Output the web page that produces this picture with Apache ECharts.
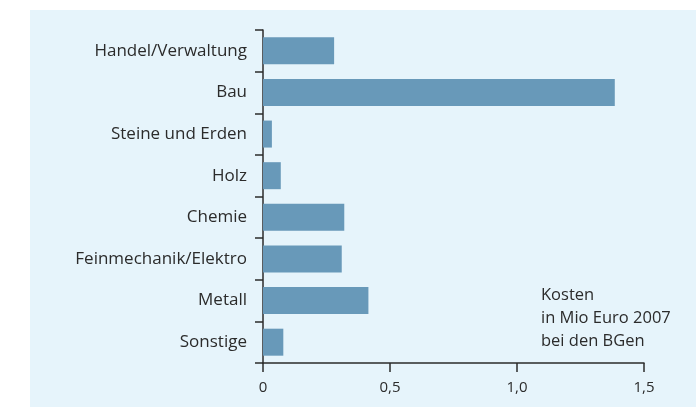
<!DOCTYPE html>
<html>
<head>
<meta charset="utf-8">
<script src="https://cdn.jsdelivr.net/npm/echarts@6/dist/echarts.min.js"></script>
<style>
  html, body { margin: 0; padding: 0; background: #fff; }
  #chart { width: 696px; height: 407px; }
</style>
</head>
<body>
<div id="chart"></div>
<script>
const categories = ['Handel/Verwaltung', 'Bau', 'Steine und Erden', 'Holz', 'Chemie', 'Feinmechanik/Elektro', 'Metall', 'Sonstige'];
const kosten = [0.28, 1.385, 0.035, 0.07, 0.32, 0.31, 0.415, 0.08];
const xTicks = [0, 0.5, 1.0, 1.5];
const noteLines = ['Kosten', 'in Mio Euro 2007', 'bei den BGen'];

const myChart = echarts.init(document.querySelector('#chart'));

const textColor = '#2b2b2b';
const fontFamily = '"Open Sans", sans-serif';

const option = {
  animation: false,
  textStyle: { fontFamily: fontFamily },
  graphic: [
    {
      type: 'rect',
      z: -10,
      shape: { x: 30, y: 10, width: 666, height: 397 },
      style: { fill: '#e6f4fb' }
    },
    {
      type: 'text',
      left: 541,
      top: 284,
      style: {
        text: noteLines.join('\n'),
        fill: textColor,
        font: '16.5px ' + fontFamily,
        lineHeight: 23
      }
    }
  ],
  grid: {
    left: 263,
    top: 30,
    right: 52,
    bottom: 44,
    containLabel: false
  },
  xAxis: {
    type: 'value',
    min: 0,
    max: 1.5,
    interval: 0.5,
    splitLine: { show: false },
    axisLine: { show: true, lineStyle: { color: textColor, width: 1.5 } },
    axisTick: { show: true, length: 9, lineStyle: { color: textColor, width: 1.5 } },
    axisLabel: {
      color: textColor,
      fontSize: 15,
      margin: 17,
      formatter(value) {
        return xTicks.indexOf(value) < 0 ? '' : (value === 0 ? '0' : value.toFixed(1).replace('.', ','));
      }
    }
  },
  yAxis: {
    type: 'category',
    inverse: true,
    data: categories,
    axisLine: { show: true, lineStyle: { color: textColor, width: 1.5 } },
    axisTick: { show: true, length: 8, lineStyle: { color: textColor, width: 1.5 } },
    axisLabel: { color: textColor, fontSize: 17, margin: 16 }
  },
  series: [
    {
      type: 'bar',
      data: kosten,
      barWidth: 27,
      itemStyle: { color: '#6899b9' }
    }
  ]
};

myChart.setOption(option);

window.addEventListener('resize', function() {
  myChart.resize();
});
</script>
</body>
</html>
